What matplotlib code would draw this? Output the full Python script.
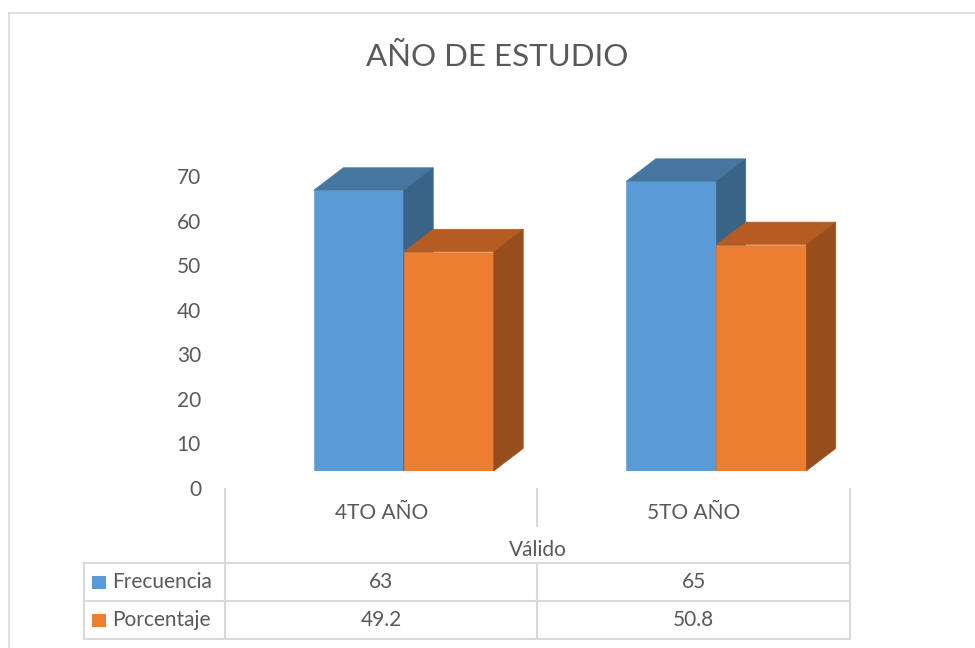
import matplotlib
matplotlib.use("Agg")
import matplotlib.pyplot as plt
from matplotlib.patches import Polygon, Rectangle
from matplotlib.lines import Line2D
from matplotlib import transforms

# ---- data ----
title = "AÑO DE ESTUDIO"
categories = ["4TO AÑO", "5TO AÑO"]
group_label = "Válido"
series_names = ["Frecuencia", "Porcentaje"]
frecuencia = [63, 65]
porcentaje = [49.2, 50.8]
frecuencia_labels = ["63", "65"]
porcentaje_labels = ["49.2", "50.8"]
yticks = [0, 10, 20, 30, 40, 50, 60, 70]

# ---- style ----
W, H = 975, 648
DPI = 100
TXT = "#595959"
GRID = "#D9D9D9"
FONT = ["Lato", "DejaVu Sans"]
plt.rcParams["font.family"] = FONT

front_cols = ["#5B9BD5", "#ED7D31"]
top_cols = ["#46769F", "#B45C22"]
side_cols = ["#3A6388", "#984E1C"]

fig = plt.figure(figsize=(W / DPI, H / DPI), dpi=DPI)
fig.patch.set_facecolor("white")

def fx(px):
    return px / W

def fy(py):
    return 1 - py / H

# plot axes: x from 225 to 850 px, y value 0 at 471 px, 70 at 159 px
ax_left, ax_right, ax_bot, ax_top = 225, 850, 471, 159
ax = fig.add_axes([fx(ax_left), fy(ax_bot), fx(ax_right - ax_left), (ax_bot - ax_top) / H])
ax.set_xlim(-0.5, 1.5)
ax.set_ylim(0, 70)
ax.axis("off")

x_per_px = 2.0 / (ax_right - ax_left)
y_per_px = 70.0 / (ax_bot - ax_top)
ddx = 29.5 * x_per_px
ddy = 22.5 * y_per_px

bar_w = 0.288
offsets = [-0.216, 0.072]
series = [frecuencia, porcentaje]

for s, vals in enumerate(series):
    lefts = [i + offsets[s] for i in range(len(categories))]
    ax.bar(lefts, vals, width=bar_w, align="edge", color=front_cols[s],
           edgecolor=front_cols[s], linewidth=0.4, zorder=2 + s * 2)
    for i, v in enumerate(vals):
        x0 = lefts[i]
        x1 = x0 + bar_w
        top = Polygon([(x0, v), (x1, v), (x1 + ddx, v + ddy), (x0 + ddx, v + ddy)],
                      closed=True, facecolor=top_cols[s], edgecolor=top_cols[s],
                      linewidth=0.4, zorder=2 + s * 2, clip_on=False)
        side = Polygon([(x1, 0), (x1 + ddx, ddy), (x1 + ddx, v + ddy), (x1, v)],
                       closed=True, facecolor=side_cols[s], edgecolor=side_cols[s],
                       linewidth=0.4, zorder=2 + s * 2, clip_on=False)
        ax.add_patch(top)
        ax.add_patch(side)

# y tick labels (shifted down like the reference)
lab_tr = ax.transData + transforms.ScaledTranslation(0, -19 / DPI, fig.dpi_scale_trans)
lab_x = -0.5 + (201 - ax_left) * x_per_px
for t in yticks:
    ax.text(lab_x, t, str(t), transform=lab_tr, ha="right", va="center",
            fontsize=15, color=TXT, clip_on=False)

# title
fig.text(fx(497.5), fy(57), title, ha="center", va="center", fontsize=22.5, color=TXT)

# outer frame (partial, as in the reference)
lw_frame = 1.2
fig.add_artist(Line2D([fx(9), fx(9)], [fy(13), fy(H + 2)], transform=fig.transFigure,
                      color=GRID, lw=lw_frame))
fig.add_artist(Line2D([fx(9), fx(W + 2)], [fy(13), fy(13)], transform=fig.transFigure,
                      color=GRID, lw=lw_frame))

# category labels and table
bt = transforms.blended_transform_factory(ax.transData, fig.transFigure)
for i, c in enumerate(categories):
    ax.text(i, fy(513), c, transform=bt, ha="center", va="center", fontsize=15,
            color=TXT, clip_on=False)
ax.text(0.5, fy(550), group_label, transform=bt, ha="center", va="center",
        fontsize=15, color=TXT, clip_on=False)

lw_t = 1.5
def hline(x0, x1, y):
    fig.add_artist(Line2D([fx(x0), fx(x1)], [fy(y), fy(y)], transform=fig.transFigure,
                          color=GRID, lw=lw_t))

def vline(x, y0, y1):
    fig.add_artist(Line2D([fx(x), fx(x)], [fy(y0), fy(y1)], transform=fig.transFigure,
                          color=GRID, lw=lw_t))

tab_left, tab_top, tab_mid, tab_bot = 84, 563, 601, 639
vline(ax_left, 489, tab_bot)
vline(537, 489, 526)
vline(537, tab_top, tab_bot)
vline(ax_right, 489, tab_bot)
vline(tab_left, tab_top, tab_bot)
hline(tab_left, ax_right, tab_top)
hline(tab_left, ax_right, tab_mid)
hline(tab_left, ax_right, tab_bot)

row_y = [582, 620]
row_labels = [frecuencia_labels, porcentaje_labels]
for r, name in enumerate(series_names):
    fig.add_artist(Rectangle((fx(92), fy(row_y[r] + 7)), fx(14), 13 / H,
                             transform=fig.transFigure, facecolor=front_cols[r],
                             edgecolor="none"))
    fig.text(fx(112), fy(row_y[r]), name, ha="left", va="center", fontsize=15, color=TXT)
    for i, lab in enumerate(row_labels[r]):
        ax.text(i, fy(row_y[r]), lab, transform=bt, ha="center", va="center",
                fontsize=15, color=TXT, clip_on=False)

fig.savefig("out.png", dpi=DPI)
